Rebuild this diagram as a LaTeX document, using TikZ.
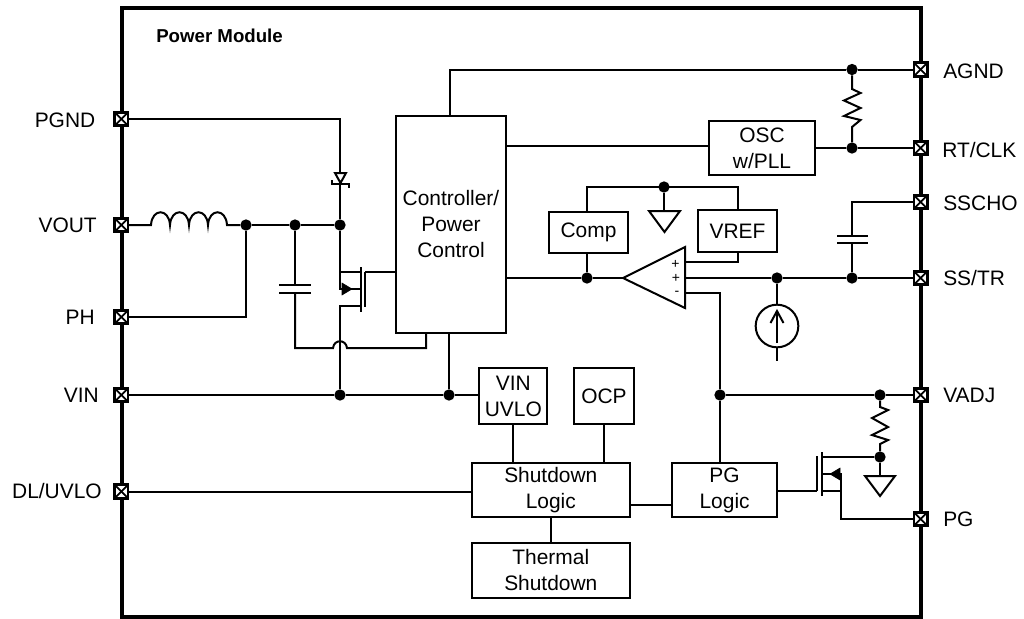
\documentclass[tikz,border=0pt]{standalone}
\usepackage{fontspec}
\setmainfont{Liberation Sans}
\newcommand{\txtsize}{\fontsize{15.7}{19.5}\selectfont}
\tikzset{
  wire/.style={line width=1.5pt, line join=miter},
  block/.style={draw, line width=1.5pt, fill=white, align=center, inner sep=0pt, outer sep=0pt, font=\txtsize},
  joint/.style={circle, fill=black, inner sep=0pt, minimum size=8.5pt},
  lbl/.style={inner sep=0pt, font=\txtsize},
  sgn/.style={inner sep=0pt, font=\fontsize{10.5}{10.5}\selectfont},
  pinbox/.style={draw, line width=2.1pt, fill=white, inner sep=0pt, outer sep=0pt, minimum size=10pt,
    path picture={
      \draw [line width=1.3pt] (path picture bounding box.north west) -- (path picture bounding box.south east);
      \draw [line width=1.3pt] (path picture bounding box.north east) -- (path picture bounding box.south west);
    }}
}
\begin{document}
\begin{tikzpicture}[x=0.75pt, y=-0.75pt]
  \useasboundingbox (0, 0) rectangle (1024, 618);
  \draw [line width=3pt] (122, 7.5) rectangle (920.5, 616.5);
  \node [anchor=west, inner sep=0pt, font=\fontsize{14}{16}\selectfont\bfseries] (TL) at (156, 35.5) {Power Module};

  \node [pinbox] (PGND) at (121.3, 119) {};
  \node [pinbox] (VOUT) at (121.3, 225) {};
  \node [pinbox] (PH) at (121.3, 317) {};
  \node [pinbox] (VIN) at (121.3, 395) {};
  \node [pinbox] (DL) at (121.3, 491.5) {};
  \node [pinbox] (AGND) at (920.7, 69.5) {};
  \node [pinbox] (RT) at (920.7, 148) {};
  \node [pinbox] (SSC) at (920.7, 202) {};
  \node [pinbox] (SS) at (920.7, 278) {};
  \node [pinbox] (VADJ) at (920.7, 395) {};
  \node [pinbox] (PG) at (920.7, 519) {};
  \node [lbl, anchor=east] (PGNDT) at (95.5, 120) {PGND};
  \node [lbl, anchor=east] (VOUTT) at (97, 225) {VOUT};
  \node [lbl, anchor=east] (PHT) at (95, 317) {PH};
  \node [lbl, anchor=east] (VINT) at (99, 395) {VIN};
  \node [lbl, anchor=east] (DLT) at (102, 491) {DL/UVLO};
  \node [lbl, anchor=west] (AGNDT) at (943, 71) {AGND};
  \node [lbl, anchor=west] (RTT) at (942, 150) {RT/CLK};
  \node [lbl, anchor=west] (SSCT) at (943, 203) {SSCHO};
  \node [lbl, anchor=west] (SST) at (943, 278) {SS/TR};
  \node [lbl, anchor=west] (VADJT) at (943, 395) {VADJ};
  \node [lbl, anchor=west] (PGT) at (943, 519) {PG};

  \node [block, minimum width=82pt, minimum height=163pt] (CTRL) at (451, 224.5) {Controller/\\Power\\Control};
  \node [block, minimum width=79.5pt, minimum height=40.8pt] (OSC) at (762, 148) {OSC\\w/PLL};
  \node [block, minimum width=59pt, minimum height=31pt] (COMP) at (588.5, 232.5) {Comp};
  \node [block, minimum width=59.7pt, minimum height=31.2pt] (VREF) at (737.5, 231) {VREF};
  \node [block, minimum width=51pt, minimum height=42.4pt] (UVLO) at (513.3, 396) {VIN\\UVLO};
  \node [block, minimum width=45.4pt, minimum height=42.4pt] (OCP) at (604, 396) {OCP};
  \node [block, minimum width=118.8pt, minimum height=41.2pt] (SD) at (550.8, 490) {Shutdown\\Logic};
  \node [block, minimum width=118.8pt, minimum height=41.2pt] (TSD) at (550.8, 570.5) {Thermal\\Shutdown};
  \node [block, minimum width=79.3pt, minimum height=41.2pt] (PGL) at (724.6, 490) {PG\\Logic};
  \node [draw, circle, line width=1.5pt, inner sep=0pt, outer sep=0pt, minimum size=32pt] (ISRC) at (777, 326) {};

  \node [joint] (J1) at (246, 225) {};
  \node [joint] (J2) at (295, 225) {};
  \node [joint] (J3) at (340, 225) {};
  \node [joint] (J4) at (340, 395) {};
  \node [joint] (J5) at (449, 395) {};
  \node [joint] (J6) at (720, 395) {};
  \node [joint] (J7) at (880, 395) {};
  \node [joint] (J8) at (880, 457) {};
  \node [joint] (J9) at (852, 69.5) {};
  \node [joint] (J10) at (852, 148) {};
  \node [joint] (J11) at (852, 278) {};
  \node [joint] (J12) at (777, 278) {};
  \node [joint] (J13) at (587, 278) {};
  \node [joint] (J14) at (664, 187) {};

  \coordinate (AP) at (623, 278);
  \coordinate (AT) at (685, 247);
  \coordinate (AB) at (685, 308);
  \coordinate (STUB) at (777, 361);
  \node [sgn] (PA) at (675.5, 264) {+};
  \node [sgn] (PB) at (676, 278.5) {+};
  \node [sgn] (MN) at (677, 293) {-};
  \draw [wire] (AP) -- (AT) -- (AB) -- cycle;

  \draw [wire] (PGND) -- (340, 119) -- (340, 173);
  \draw [wire] (335, 173) -- (346, 173) -- (340.5, 183) -- cycle;
  \draw [wire, line width=1.1pt] (332, 180) -- (332, 184) -- (349, 184) -- (349, 188);
  \draw [wire] (340, 184) -- (J3);
  \draw [wire] (VOUT) -- (151, 225)
    .. controls (152, 208) and (169, 208) .. (170, 225)
    .. controls (171, 208) and (188, 208) .. (189, 225)
    .. controls (190, 208) and (207, 208) .. (208, 225)
    .. controls (209, 208) and (226, 208) .. (227, 225) -- (J1);
  \draw [wire] (J1) -- (J2) -- (J3);
  \draw [wire] (PH) -- (246, 317) -- (J1);

  \draw [wire] (J2) -- (295, 285);
  \draw [wire] (279, 285) -- (311, 285);
  \draw [wire] (279, 293) -- (311, 293);
  \draw [wire] (295, 293) -- (295, 348) -- (333, 348)
    .. controls (334, 339) and (346, 339) .. (347, 348) -- (426, 348) -- (426, 333);

  \draw [wire] (J3) -- (340, 289) -- (360, 289);
  \draw [fill=black] (342, 283) -- (352, 289) -- (342, 295) -- cycle;
  \draw [wire] (340, 272) -- (360, 272);
  \draw [wire] (360.5, 267) -- (360.5, 312);
  \draw [wire] (365, 272) -- (365, 307);
  \draw [wire] (365, 272) -- (CTRL.west |- 365, 272);
  \draw [wire] (360, 306) -- (340, 306) -- (J4);

  \draw [wire] (VIN) -- (J4) -- (J5) -- (UVLO.west |- J5);
  \draw [wire] (J5) -- (CTRL.south -| J5);
  \draw [wire] (CTRL.north -| 449.5, 0) -- (449.5, 69.5) -- (J9) -- (AGND);
  \draw [wire] (CTRL.east |- 0, 146) -- (OSC.west |- 0, 146);
  \draw [wire] (OSC.east) -- (J10) -- (RT);
  \draw [wire] (J9) -- (852, 89) -- (860.5, 93) -- (844, 100.5) -- (860.5, 108) -- (844, 116) -- (860.5, 120) -- (852, 127) -- (J10);

  \draw [wire] (SSC) -- (852, 202) -- (852, 236);
  \draw [wire] (837, 236) -- (868, 236);
  \draw [wire] (837, 243) -- (868, 243);
  \draw [wire] (852, 243) -- (J11);

  \draw [wire] (CTRL.east |- AP) -- (J13) -- (AP);
  \draw [wire] (COMP.south -| J13) -- (J13);
  \draw [wire] (COMP.north -| J13) -- (587, 187) -- (738, 187) -- (VREF.north -| 738, 0);
  \draw [wire] (J14) -- (664, 211);
  \draw [wire] (649, 211) -- (680, 211) -- (664.5, 232) -- cycle;
  \draw [wire] (VREF.south -| 738, 0) -- (738, 262) -- (685, 262);
  \draw [wire] (685, 278) -- (J12) -- (J11) -- (SS);
  \draw [wire] (J12) -- (ISRC);
  \draw [wire] (ISRC) -- (STUB);
  \draw [wire] (777, 343) -- (777, 311);
  \draw [wire] (770.5, 323) -- (777, 311) -- (783.5, 323);
  \draw [wire] (685, 293) -- (720, 293) -- (J6);
  \draw [wire] (J6) -- (J7) -- (VADJ);
  \draw [wire] (J6) -- (PGL.north -| J6);
  \draw [wire] (J7) -- (880, 407) -- (888, 410) -- (872, 418) -- (888, 427) -- (872, 435) -- (888, 440) -- (880, 444) -- (J8);
  \draw [wire] (J8) -- (880, 476);
  \draw [wire] (865, 476) -- (895, 476) -- (880, 496) -- cycle;

  \draw [wire] (UVLO.south) -- (SD.north -| UVLO);
  \draw [wire] (OCP.south) -- (SD.north -| OCP);
  \draw [wire] (DL) -- (SD.west |- DL);
  \draw [wire] (SD.south) -- (TSD.north);
  \draw [wire] (SD.east |- 0, 505) -- (PGL.west |- 0, 505);

  \draw [wire] (PGL.east |- 0, 491) -- (817, 491);
  \draw [wire] (817, 456) -- (817, 491);
  \draw [wire] (821.5, 452) -- (821.5, 496);
  \draw [wire] (821, 457) -- (J8);
  \draw [wire] (821, 474) -- (841, 474) -- (841, 519) -- (PG);
  \draw [wire] (821, 491) -- (841, 491);
  \draw [fill=black] (840, 468) -- (830, 474) -- (840, 480) -- cycle;
\end{tikzpicture}
\end{document}
